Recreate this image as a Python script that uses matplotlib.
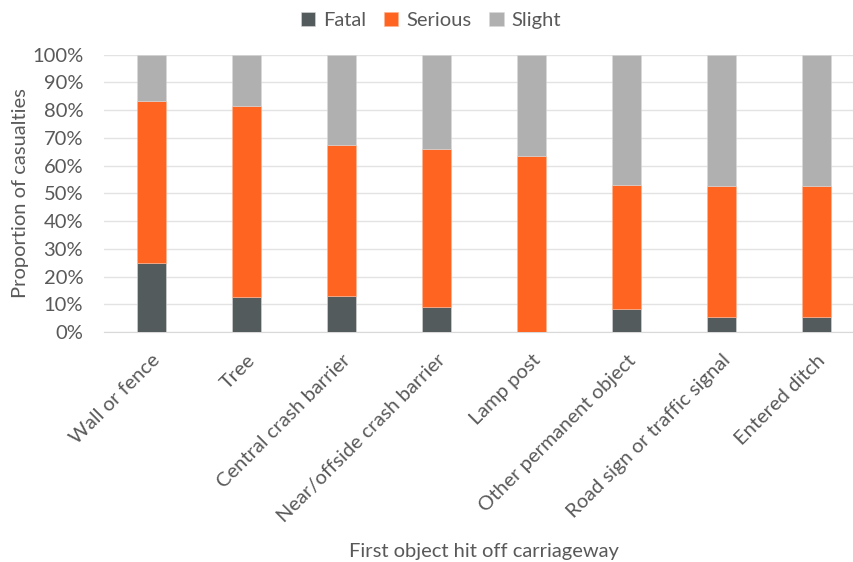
import matplotlib.pyplot as plt
from matplotlib.ticker import PercentFormatter
import numpy as np

objects = ["Wall or fence", "Tree", "Central crash barrier", "Near/offside crash barrier",
           "Lamp post", "Other permanent object", "Road sign or traffic signal", "Entered ditch"]
fatal = [25.0, 12.5, 13.0, 9.2, 0.0, 8.5, 5.3, 5.3]
serious = [58.3, 68.8, 54.5, 56.6, 63.6, 44.6, 47.2, 47.2]
slight = [16.7, 18.7, 32.5, 34.2, 36.4, 46.9, 47.5, 47.5]

plt.rcParams['font.family'] = ['Lato', 'DejaVu Sans']
txt = '#595959'
fs = 14.5

fig = plt.figure(figsize=(8.54, 5.62), dpi=100)
ax = fig.add_axes([0.1218, 0.409, 0.89, 0.494])

x = np.arange(len(objects))
w = 0.31
fatal = np.array(fatal)
serious = np.array(serious)
slight = np.array(slight)
ax.bar(x, fatal, w, color='#535B5D', label='Fatal', zorder=3, edgecolor='#d9d9d9', linewidth=0.4)
ax.bar(x, serious, w, bottom=fatal, color='#FF6520', label='Serious', zorder=3,
       edgecolor='#ffb38f', linewidth=0.4)
ax.bar(x, slight, w, bottom=fatal + serious, color='#B0B0B0', label='Slight', zorder=3,
       edgecolor='#d9d9d9', linewidth=0.4)

ax.set_xlim(-0.5, len(objects) - 0.5)
ax.set_ylim(0, 100)
ax.set_yticks(np.arange(0, 101, 10))
ax.yaxis.set_major_formatter(PercentFormatter(decimals=0))
ax.grid(axis='y', color='#e3e3e3', linewidth=1, zorder=0)
for s in ['top', 'right', 'left']:
    ax.spines[s].set_visible(False)
ax.spines['bottom'].set_color('#d9d9d9')
ax.tick_params(axis='both', length=0, colors=txt, labelsize=fs)
ax.tick_params(axis='y', pad=15)
ax.set_xticks(x)
ax.set_xticklabels(objects, rotation=45, ha='right', rotation_mode='anchor')
ax.tick_params(axis='x', pad=14)
ax.set_ylabel('Proportion of casualties', color=txt, fontsize=fs, labelpad=2)
ax.set_xlabel('First object hit off carriageway', color=txt, fontsize=fs, labelpad=12)

leg = ax.legend(loc='lower center', bbox_to_anchor=(0.43, 1.025), ncol=3, frameon=False,
                fontsize=fs, handlelength=0.7, handleheight=0.7, handletextpad=0.4,
                columnspacing=0.9, labelcolor=txt)

fig.savefig('out.png', dpi=100)
